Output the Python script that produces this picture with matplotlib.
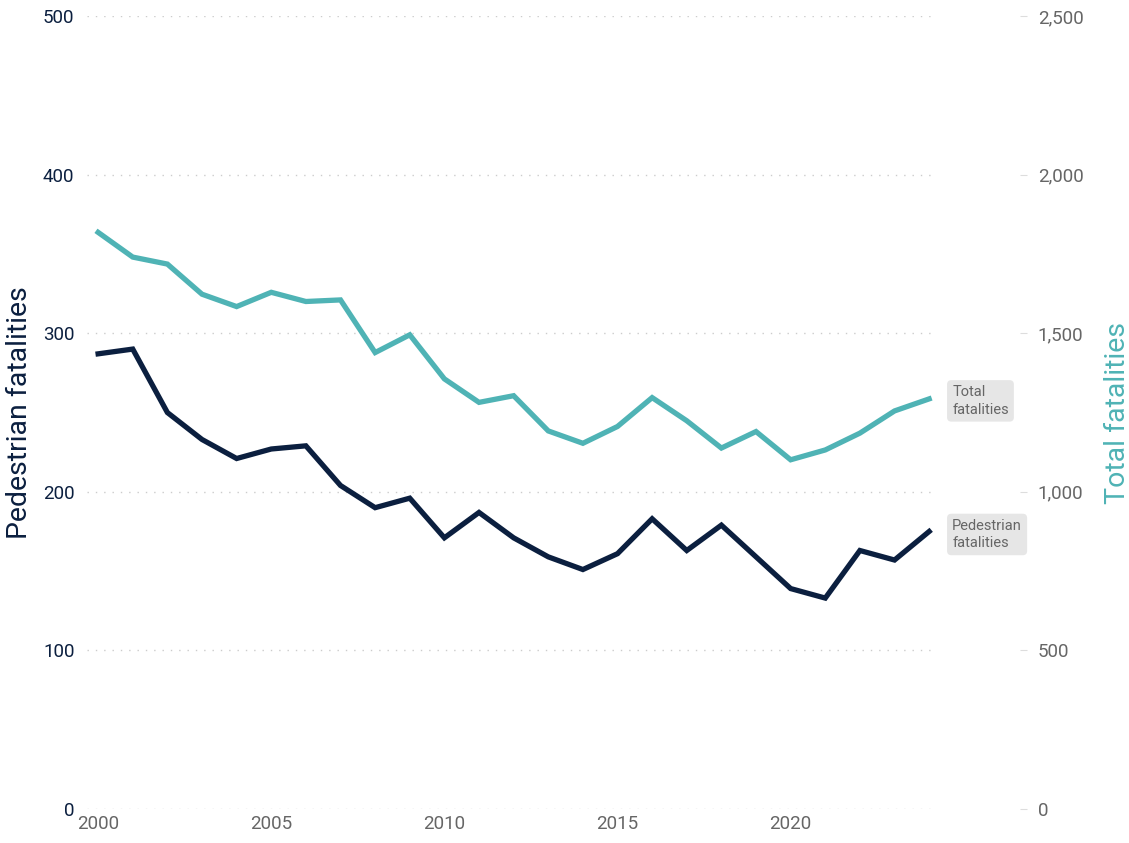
import matplotlib.pyplot as plt
from matplotlib.ticker import FuncFormatter

# years and the two series
years = list(range(2000, 2025))
pedestrian = [287, 290, 250, 233, 221, 227, 229, 204, 190, 196, 171, 187, 171,
              159, 151, 161, 183, 163, 179, 159, 139, 133, 163, 157, 175]
total = [1818, 1740, 1718, 1623, 1584, 1629, 1600, 1605, 1439, 1495, 1356, 1282, 1303,
         1192, 1153, 1206, 1297, 1224, 1138, 1190, 1101, 1132, 1185, 1255, 1293]

left_ticks = [0, 100, 200, 300, 400, 500]
right_ticks = [0, 500, 1000, 1500, 2000, 2500]
year_ticks = [2000, 2005, 2010, 2015, 2020]

navy = '#0b1f3f'
teal = '#4fb3b5'
grey = '#666666'

plt.rcParams['font.family'] = ['Roboto', 'DejaVu Sans']

fig = plt.figure(figsize=(11.29, 8.43), dpi=100)
ax = fig.add_axes([0.0771, 0.0403, 0.7511, 0.9407])
ax2 = ax.twinx()

ax.plot(years, pedestrian, color=navy, lw=3.8, solid_joinstyle='miter', zorder=3)
ax2.plot(years, total, color=teal, lw=3.8, solid_joinstyle='miter', zorder=3)

ax.set_xlim(1999.68, 2024.17)
ax.set_ylim(0, 500)
ax2.set_ylim(0, 2500)
ax.set_yticks(left_ticks)
ax2.set_yticks(right_ticks)
ax.set_xticks(year_ticks)
ax2.yaxis.set_major_formatter(FuncFormatter(lambda v, p: f'{int(v):,}'))

for a in (ax, ax2):
    for s in a.spines.values():
        s.set_visible(False)

ax.grid(axis='y', color='#cccccc', lw=1, linestyle=(0, (1, 5)))
ax.set_axisbelow(True)

ax.tick_params(axis='y', length=0, pad=9, labelsize=13.5, labelcolor=navy)
ax.tick_params(axis='x', length=0, pad=4, labelsize=13.5, labelcolor=grey)
ax2.spines['right'].set_position(('outward', 61))
ax2.tick_params(axis='y', length=5, width=0.8, color='#dddddd', pad=8,
                labelsize=13.5, labelcolor=grey)

ax.set_ylabel('Pedestrian fatalities', color=navy, fontsize=20.5)
ax.yaxis.set_label_coords(-0.064, 0.5)
ax2.set_ylabel('Total fatalities', color=teal, fontsize=20.5)
ax2.yaxis.set_label_coords(1.199, 0.5)

box = dict(boxstyle='round,pad=0.35,rounding_size=0.3', fc='#e6e6e6', ec='none')
ax2.annotate('Total\nfatalities', xy=(years[-1], total[-1]), xytext=(23, -2),
             textcoords='offset pixels', ha='left', va='center', fontsize=10.5,
             color=grey, bbox=box, linespacing=1.3, annotation_clip=False)
ax.annotate('Pedestrian\nfatalities', xy=(years[-1], pedestrian[-1]), xytext=(23, -3),
            textcoords='offset pixels', ha='left', va='center', fontsize=10.5,
            color=grey, bbox=box, linespacing=1.3, annotation_clip=False)

fig.savefig('out.png', dpi=100)
